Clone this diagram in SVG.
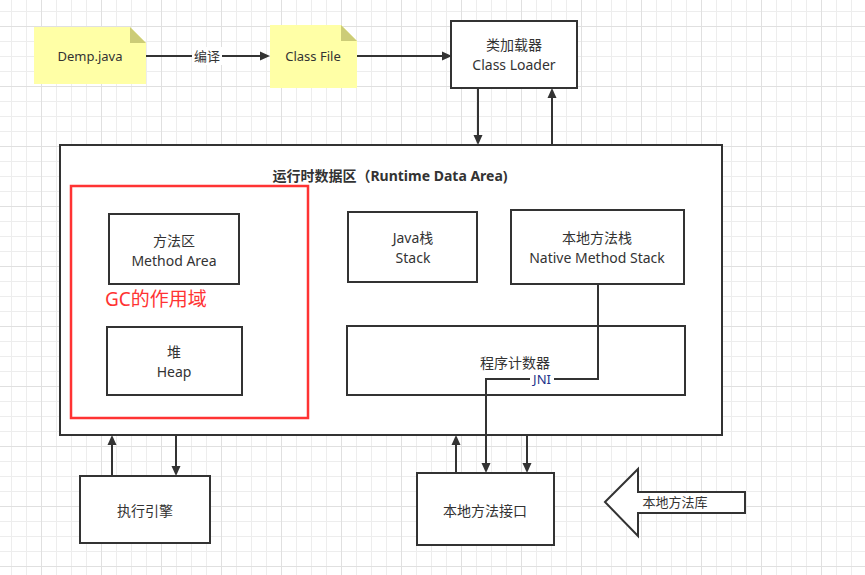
<svg xmlns="http://www.w3.org/2000/svg" width="865" height="575" viewBox="0 0 865 575">
<defs>
<pattern id="gmin" x="11" y="11" width="15" height="15" patternUnits="userSpaceOnUse"><rect x="0" y="0" width="1" height="15" fill="#ededed"/><rect x="0" y="0" width="15" height="1" fill="#ededed"/></pattern>
<pattern id="gmaj" x="41" y="26" width="60" height="60" patternUnits="userSpaceOnUse"><rect x="0" y="0" width="1" height="60" fill="#e0e0e0"/><rect x="0" y="0" width="60" height="1" fill="#e0e0e0"/></pattern>
<marker id="arr" markerUnits="userSpaceOnUse" markerWidth="11" markerHeight="10" refX="2" refY="5" orient="auto"><path d="M0,0.5 L10,5 L0,9.5 z" fill="#333"/></marker>
<style>
.box{fill:#fff;stroke:#333;stroke-width:2}
.note{fill:#ffffa6;stroke:none}
.fold{fill:#cccc77}
.t{font-family:"Noto Sans","Noto Sans CJK SC",sans-serif;font-size:14px;fill:#333;text-anchor:middle;dominant-baseline:central}
.s13{font-size:13px}
.con{fill:none;stroke:#333;stroke-width:2;marker-end:url(#arr)}
</style>
</defs>
<rect width="865" height="575" fill="#fff"/>
<rect width="865" height="575" fill="url(#gmin)"/>
<rect width="865" height="575" fill="url(#gmaj)"/>

<g id="runtime-area">
<rect class="box" x="60" y="145" width="662" height="290"/>
<text class="t" x="390" y="175" font-weight="bold">运行时数据区（Runtime Data Area)</text>
</g>
<g id="gc-scope">
<rect x="71" y="186" width="237" height="232" fill="none" stroke="#ff3333" stroke-width="2.5"/>
<text x="105" y="299" font-family="Noto Sans,Noto Sans CJK SC,sans-serif" font-size="19" fill="#ff3333" dominant-baseline="central">GC的作用域</text>
</g>
<g id="demp-java">
<path class="note" d="M34,27 H130 L146,43 V84 H34 Z"/>
<path class="fold" d="M130,27 L146,43 H130 Z"/>
<text class="t s13" x="90" y="56">Demp.java</text>
</g>
<g id="class-file">
<path class="note" d="M270,25 H341 L357,41 V88 H270 Z"/>
<path class="fold" d="M341,25 L357,41 H341 Z"/>
<text class="t s13" x="313" y="56">Class File</text>
</g>
<g id="class-loader">
<rect class="box" x="451" y="21" width="126" height="67"/>
<text class="t" x="514" y="44">类加载器</text>
<text class="t" x="514" y="64">Class Loader</text>
</g>
<g id="method-area">
<rect class="box" x="109" y="214" width="130" height="70"/>
<text class="t" x="174" y="240">方法区</text>
<text class="t" x="174" y="260">Method Area</text>
</g>
<g id="heap">
<rect class="box" x="107" y="327" width="135" height="68"/>
<text class="t" x="174" y="351">堆</text>
<text class="t" x="174" y="371">Heap</text>
</g>
<g id="java-stack">
<rect class="box" x="348" y="212" width="129" height="70"/>
<text class="t" x="413" y="237">Java栈</text>
<text class="t" x="413" y="257">Stack</text>
</g>
<g id="native-stack">
<rect class="box" x="511" y="210" width="173" height="74"/>
<text class="t" x="597" y="237">本地方法栈</text>
<text class="t" x="597" y="257">Native Method Stack</text>
</g>
<g id="pc-register">
<rect class="box" x="347" y="326" width="338" height="69"/>
<text class="t" x="515" y="362">程序计数器</text>
</g>
<g id="exec-engine">
<rect class="box" x="80" y="476" width="130" height="67"/>
<text class="t" x="145" y="510">执行引擎</text>
</g>
<g id="native-interface">
<rect class="box" x="417" y="473" width="137" height="72"/>
<text class="t" x="485" y="510">本地方法接口</text>
</g>
<g id="native-library">
<polygon points="605,502 638,469 638,492 745,492 745,513 638,513 638,536" fill="#fff" stroke="#333" stroke-width="2"/>
<text class="t s13" x="675" y="502">本地方法库</text>
</g>

<g id="connectors">
<path class="con" d="M146,56 H262"/>
<rect x="192" y="47" width="30" height="18" fill="#fff"/>
<text class="t s13" x="207" y="56">编译</text>
<path class="con" d="M357,56 H444"/>
<path class="con" d="M478,88 V137"/>
<path class="con" d="M552,145 V96"/>
<path class="con" d="M598,284 V379 H486 V465"/>
<rect x="530" y="372" width="24" height="15" fill="#fff"/>
<text class="t s13" x="542" y="379" style="fill:#22338a">JNI</text>
<path class="con" d="M112,476 V443"/>
<path class="con" d="M176,435 V468"/>
<path class="con" d="M456,473 V443"/>
<path class="con" d="M527,435 V465"/>
</g>
</svg>
